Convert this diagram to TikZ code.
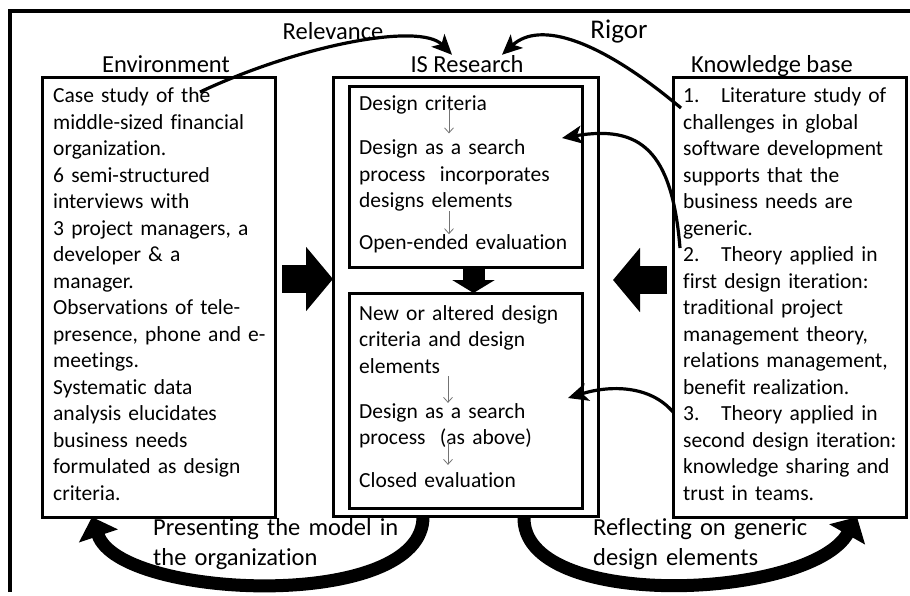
\documentclass[tikz,border=0pt]{standalone}
\usepackage{fontspec}
\setmainfont{Carlito}[Ligatures=NoCommon]
\usetikzlibrary{positioning}
\usetikzlibrary{arrows.meta}

\newcommand{\kbitem}[1]{\makebox[38pt][l]{#1}}

\begin{document}
\begin{tikzpicture}[x=1pt,y=-1pt,
	box/.style={draw,line width=3pt,outer sep=0pt,inner sep=0pt},
	body/.style={anchor=base west,inner sep=0pt,text width=222pt,align=left,font=\fontsize{21.5}{26.5}\selectfont},
	heading/.style={anchor=base,inner sep=0pt,font=\fontsize{24.5}{29}\selectfont},
	caption/.style={anchor=base west,inner sep=0pt,text width=260pt,align=left,font=\fontsize{24.5}{30}\selectfont},
	linkarrow/.style={line width=3.2pt,-{Stealth[length=20pt,width=18pt,inset=5pt]}},
	small/.style={black!55,line width=.8pt,-{Straight Barb[length=5pt,width=9pt]}},
	bigarrow/.style={line width=28pt,-{Triangle[length=27pt,width=63pt]}},
	downarrow/.style={line width=22pt,-{Triangle[length=13pt,width=42pt]}},
	cyclearrow/.style={line width=13pt,-{Triangle[length=20pt,width=40pt]}}]
	\useasboundingbox (0,0) rectangle (910,595);
	\draw[line width=4pt] (10,592) -- (10,11) -- (912,11);
	%% boxes
	\node[box,minimum width=233pt,minimum height=440pt] (envbox) at (158.5,297) {};
	\node[box,minimum width=265pt,minimum height=439pt] (isbox) at (465.5,296.5) {};
	\node[box,minimum width=233pt,minimum height=181pt] (topbox) at (465.5,176.5) {};
	\node[box,minimum width=233pt,minimum height=215pt,below=26pt of topbox] (lowbox) {};
	\node[box,minimum width=233pt,minimum height=440pt] (kbbox) at (789.5,297) {};
	%% headings
	\node[heading] (envtitle) at (166,72) {Environment};
	\node[heading] (istitle) at (467,72) {IS Research};
	\node[heading] (kbtitle) at (772,72) {Knowledge base};
	\node[heading] (reltitle) at (333,39) {Relevance};
	\node[heading,font=\fontsize{27}{32}\selectfont] (rigtitle) at (619,38) {Rigor};
	%% environment
	\node[body] (envtext) at (53,102.5) {Case study of the\\middle-sized financial\\organization.\\6 semi-structured\\interviews with\\3 project managers, a\\developer \& a\\manager.\\Observations of tele-\\presence, phone and e-\\meetings.\\Systematic data\\analysis elucidates\\business needs\\formulated as design\\criteria.};
	%% knowledge base
	\node[body] (kbtext) at (683,102.5) {\kbitem{1.}Literature study of\\challenges in global\\software development\\supports that the\\business needs are\\generic.\\\kbitem{2.}Theory applied in\\first design iteration:\\traditional project\\management theory,\\relations management,\\benefit realization.\\\kbitem{3.}Theory applied in\\second design iteration:\\knowledge sharing and\\trust in teams.};
	%% IS research, first iteration
	\node[body] (crit1) at (359,110) {Design criteria};
	\node[body] (search1) at (359,154.5) {Design as a search\\process~~incorporates\\designs elements};
	\node[body] (eval1) at (359,249.3) {Open-ended evaluation};
	%% IS research, second iteration
	\node[body] (crit2) at (359,320) {New or altered design\\criteria and design\\elements};
	\node[body] (search2) at (359,418) {Design as a search\\process~~(as above)};
	\node[body] (eval2) at (359,487) {Closed evaluation};
	\draw[small] ([xshift=90pt,yshift=6pt]crit1.south west) -- ([xshift=90pt,yshift=6pt]search1.north west);
	\draw[small] ([xshift=90pt]search1.south west) -- ([xshift=90pt]eval1.north west);
	\draw[small] ([xshift=89pt,yshift=-3pt]crit2.south west) -- ([xshift=89pt]search2.north west);
	\draw[small] ([xshift=89pt,yshift=7pt]search2.south west) -- ([xshift=89pt,yshift=7pt]eval2.north west);
	%% captions
	\node[caption] (presenting) at (153,535) {Presenting the model in\\the organization};
	\node[caption] (reflecting) at (593,535) {Reflecting on generic\\design elements};
	%% block arrows
	\draw[bigarrow] ([shift={(7,-18)}]envbox.east) -- ([shift={(0,-17.5)}]isbox.west);
	\draw[bigarrow] ([shift={(-6,-17)}]kbbox.west) -- ([shift={(15,-16.5)}]isbox.east);
	\draw[downarrow] ([xshift=8pt]topbox.south) -- ([xshift=8pt]lowbox.north);
	\draw[cyclearrow] ([xshift=-42.5pt]isbox.south) .. controls +(2,96) and +(28,83) .. ([xshift=50pt]envbox.south west);
	\draw[cyclearrow] ([xshift=-74pt]isbox.south east) .. controls +(-4,96) and +(-47,83) .. ([xshift=184pt]kbbox.south west);
	%% relevance and rigor
	\coordinate (relstart) at (200,92);
	\coordinate (rigstart) at (681,108);
	\coordinate (kb2) at (680,248);
	\coordinate (topin) at (562,138);
	\coordinate (lowin) at (568,398);
	\draw[linkarrow] (relstart) .. controls (300,45) and (420,22) .. ([xshift=-15pt]istitle.north);
	\draw[linkarrow] (rigstart) .. controls (600,40) and (540,20) .. ([xshift=35pt]istitle.north);
	\draw[linkarrow] (kb2) .. controls (672,150) and (640,125) .. (topin);
	\draw[linkarrow] ([shift={(0,115)}]kbbox.west) .. controls (650,385) and (610,385) .. (lowin);
\end{tikzpicture}
\end{document}
